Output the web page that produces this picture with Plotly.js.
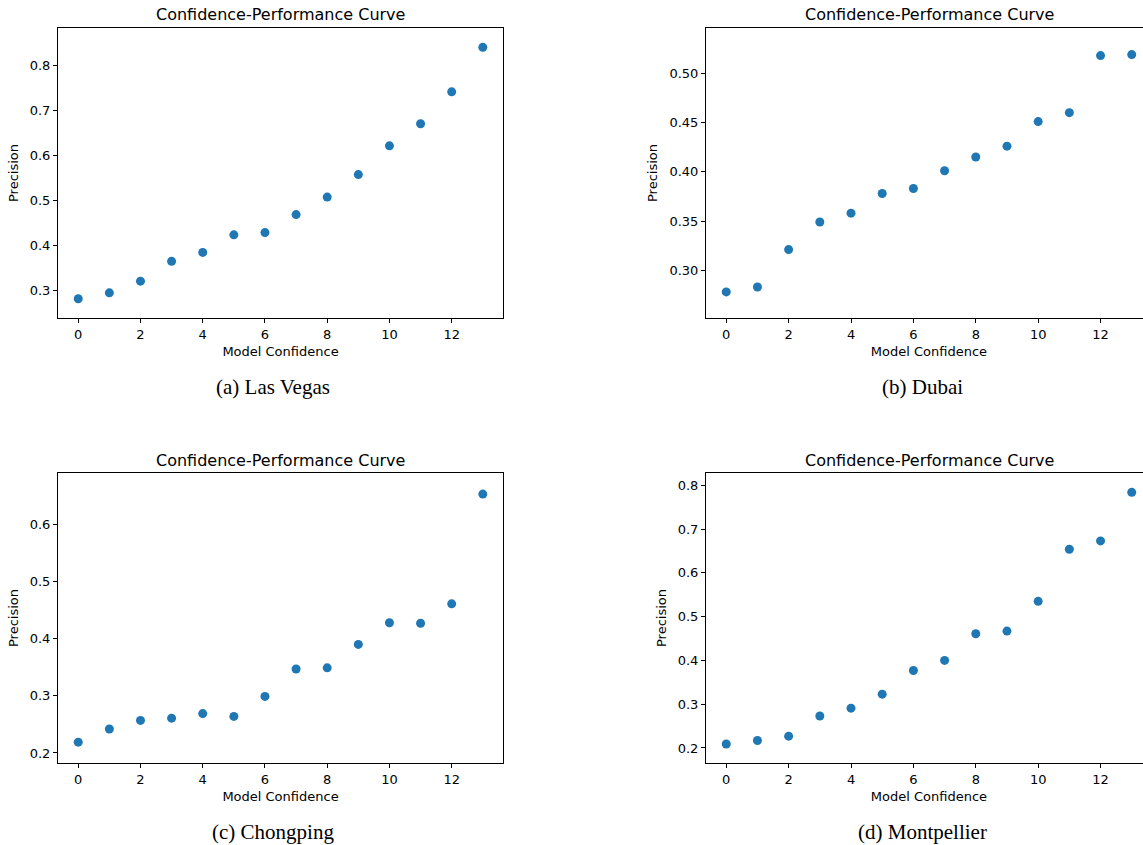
<!DOCTYPE html>
<html>
<head>
<meta charset="utf-8">
<script src="https://cdn.plot.ly/plotly-3.0.1.min.js"></script>
<style>
html, body { margin: 0; padding: 0; overflow: hidden; background: #fff; }
#chart { width: 1160px; height: 845px; }
</style>
</head>
<body>
<div id="chart"></div>
<script>
// Data
const confidence = [0, 1, 2, 3, 4, 5, 6, 7, 8, 9, 10, 11, 12, 13];
const lasVegas   = [0.282, 0.295, 0.321, 0.365, 0.385, 0.424, 0.429, 0.469, 0.508, 0.558, 0.622, 0.671, 0.742, 0.841];
const dubai      = [0.278, 0.283, 0.321, 0.349, 0.358, 0.378, 0.383, 0.401, 0.415, 0.426, 0.451, 0.460, 0.518, 0.519];
const chongping  = [0.219, 0.242, 0.257, 0.261, 0.269, 0.264, 0.299, 0.347, 0.349, 0.390, 0.428, 0.427, 0.461, 0.653];
const montpellier= [0.209, 0.217, 0.227, 0.273, 0.291, 0.323, 0.377, 0.400, 0.461, 0.467, 0.535, 0.654, 0.673, 0.784];
const captions = ["(a) Las Vegas", "(b) Dubai", "(c) Chongping", "(d) Montpellier"];
const panelTitle = "Confidence-Performance Curve";
const xLabel = "Model Confidence";
const yLabel = "Precision";
const xTicks = [0, 2, 4, 6, 8, 10, 12];
const yTicksA = [0.3, 0.4, 0.5, 0.6, 0.7, 0.8];
const yTicksB = [0.30, 0.35, 0.40, 0.45, 0.50];
const yTicksC = [0.2, 0.3, 0.4, 0.5, 0.6];
const yTicksD = [0.2, 0.3, 0.4, 0.5, 0.6, 0.7, 0.8];

const color = '#1f77b4';
const font = 'DejaVu Sans, sans-serif';
const series = [lasVegas, dubai, chongping, montpellier];
const axes = [['x','y'],['x2','y2'],['x3','y3'],['x4','y4']];

const traces = series.map((s, i) => ({
  x: confidence, y: s, type: 'scatter', mode: 'markers',
  xaxis: axes[i][0], yaxis: axes[i][1],
  marker: {color: color, size: 9, line: {width: 0}},
  showlegend: false, hoverinfo: 'x+y'
}));

function xa(domain, anchor) {
  return {
    domain: domain, anchor: anchor, range: [-0.65, 13.65],
    tickmode: 'array', tickvals: xTicks, ticktext: xTicks.map(String),
    ticks: 'outside', ticklen: 4, tickwidth: 1, tickcolor: '#000',
    showline: true, linecolor: '#000', linewidth: 1, mirror: true,
    showgrid: false, zeroline: false,
    tickfont: {family: font, size: 13, color: '#000'},
    title: {text: xLabel, font: {family: font, size: 13, color: '#000'}, standoff: 6}
  };
}
function ya(domain, anchor, range, ticks, fmt) {
  return {
    domain: domain, anchor: anchor, range: range,
    tickmode: 'array', tickvals: ticks, ticktext: ticks.map(v => v.toFixed(fmt)),
    ticks: 'outside', ticklen: 4, tickwidth: 1, tickcolor: '#000',
    showline: true, linecolor: '#000', linewidth: 1, mirror: true,
    showgrid: false, zeroline: false,
    tickfont: {family: font, size: 13, color: '#000'},
    title: {text: yLabel, font: {family: font, size: 13, color: '#000'}, standoff: 8}
  };
}

const dxL = [0, 0.4068], dxR = [0.5923, 1];
const dyT = [0.6054, 1], dyB = [0, 0.3946];

const annotations = [];
const titlePos = [[0.2033, 1.0177], [0.7962, 1.0177], [0.2033, 0.4122], [0.7962, 0.4122]];
titlePos.forEach(p => annotations.push({
  text: panelTitle, xref: 'paper', yref: 'paper', x: p[0], y: p[1],
  xanchor: 'center', yanchor: 'middle', showarrow: false,
  font: {family: font, size: 16, color: '#000'}
}));
const capPos = [[0.1965, 0.5116], [0.7898, 0.5116], [0.1965, -0.0939], [0.7898, -0.0939]];
capPos.forEach((p, i) => annotations.push({
  text: captions[i], xref: 'paper', yref: 'paper', x: p[0], y: p[1],
  xanchor: 'center', yanchor: 'middle', showarrow: false,
  font: {family: 'Liberation Serif, Times New Roman, serif', size: 21, color: '#000'}
}));

const layout = {
  width: 1160, height: 845,
  margin: {l: 58, r: 8, t: 28, b: 82},
  paper_bgcolor: '#fff', plot_bgcolor: '#fff',
  showlegend: false,
  xaxis: xa(dxL, 'y'),   yaxis: ya(dyT, 'x', [0.239, 0.884], yTicksA, 1),
  xaxis2: xa(dxR, 'y2'), yaxis2: ya(dyT, 'x2', [0.2515, 0.546], yTicksB, 2),
  xaxis3: xa(dxL, 'y3'), yaxis3: ya(dyB, 'x3', [0.1825, 0.690], yTicksC, 1),
  xaxis4: xa(dxR, 'y4'), yaxis4: ya(dyB, 'x4', [0.1657, 0.8282], yTicksD, 1),
  annotations: annotations
};

Plotly.newPlot('chart', traces, layout, {displayModeBar: false, staticPlot: true});
</script>
</body>
</html>
